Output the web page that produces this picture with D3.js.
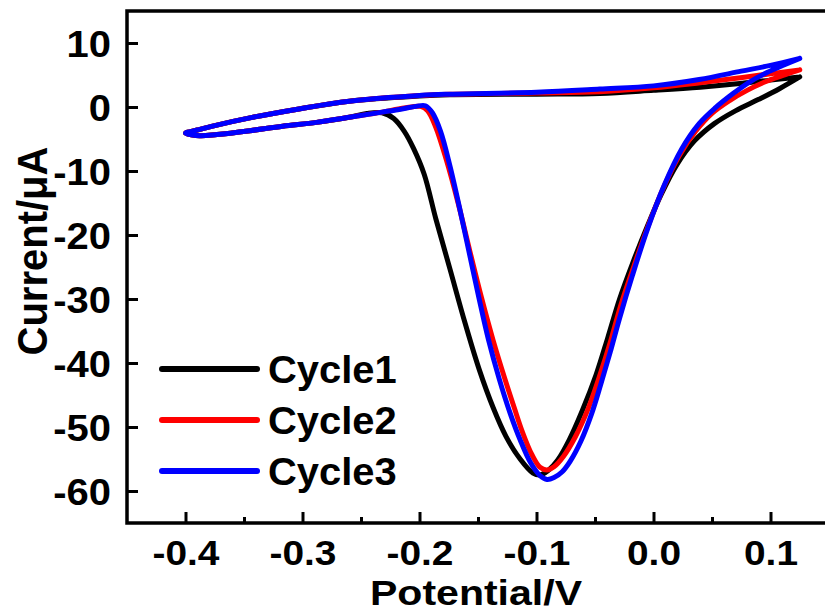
<!DOCTYPE html>
<html>
<head>
<meta charset="utf-8">
<script src="https://cdn.jsdelivr.net/npm/d3@7"></script>
<style>
  body { margin: 0; background: #fff; }
  svg { display: block; }
  text { font-family: "Liberation Sans", Arial, sans-serif; font-weight: bold; fill: #000; }
</style>
</head>
<body>
<div id="wrapper"></div>
<script>
// 1. Data
const cycle1Potential = [0.125, 0.108, 0.090, 0.070, 0.052, 0.035, 0.020, 0.007, -0.005, -0.017, -0.029, -0.039, -0.049, -0.061, -0.072, -0.082, -0.090, -0.097, -0.103, -0.114, -0.126, -0.137, -0.149, -0.161, -0.174, -0.186, -0.196, -0.205, -0.213, -0.222, -0.232, -0.245, -0.260, -0.288, -0.317, -0.345, -0.373, -0.388, -0.400, -0.390, -0.375, -0.345, -0.303, -0.260, -0.200, -0.174, -0.100, -0.046, 0.000, 0.040, 0.076, 0.100, 0.125]
const cycle1Current = [4.7, 2.9, 1.2, -0.6, -2.6, -5.3, -9.0, -13.5, -18.5, -24.0, -30.0, -36.0, -41.8, -47.5, -52.0, -55.2, -56.8, -57.5, -57.2, -55.0, -51.5, -47.0, -41.0, -33.8, -25.3, -17.5, -10.5, -6.5, -3.8, -1.8, -0.9, -1.0, -1.6, -2.4, -3.0, -3.7, -4.3, -4.5, -4.1, -3.6, -2.9, -1.7, -0.3, 0.9, 1.7, 1.9, 2.0, 2.1, 2.6, 3.1, 3.7, 4.2, 4.7]

const cycle2Potential = [0.125, 0.110, 0.095, 0.080, 0.065, 0.050, 0.036, 0.022, 0.008, -0.005, -0.017, -0.028, -0.037, -0.046, -0.056, -0.067, -0.077, -0.085, -0.091, -0.097, -0.104, -0.112, -0.119, -0.127, -0.137, -0.147, -0.157, -0.167, -0.177, -0.186, -0.193, -0.199, -0.207, -0.218, -0.232, -0.260, -0.288, -0.317, -0.345, -0.373, -0.388, -0.400, -0.390, -0.375, -0.345, -0.303, -0.260, -0.200, -0.174, -0.100, -0.046, 0.000, 0.040, 0.076, 0.100, 0.125]
const cycle2Current = [5.8, 4.9, 3.9, 2.6, 1.0, -1.0, -3.8, -7.6, -12.8, -18.8, -25.0, -31.0, -36.8, -42.0, -47.2, -51.6, -54.6, -56.2, -56.7, -56.3, -54.3, -50.8, -47.0, -42.5, -36.5, -29.8, -22.5, -15.0, -8.3, -3.2, -0.6, 0.1, 0.0, -0.3, -0.8, -1.6, -2.4, -3.0, -3.7, -4.3, -4.5, -4.1, -3.6, -2.9, -1.7, -0.3, 0.9, 1.8, 2.0, 2.2, 2.4, 3.0, 3.8, 4.6, 5.2, 5.8]

const cycle3Potential = [0.125, 0.112, 0.097, 0.082, 0.068, 0.053, 0.039, 0.024, 0.009, -0.005, -0.018, -0.029, -0.037, -0.045, -0.053, -0.062, -0.071, -0.078, -0.085, -0.091, -0.097, -0.105, -0.114, -0.123, -0.132, -0.141, -0.149, -0.157, -0.165, -0.174, -0.182, -0.189, -0.195, -0.203, -0.215, -0.232, -0.260, -0.288, -0.317, -0.345, -0.373, -0.388, -0.400, -0.390, -0.375, -0.345, -0.303, -0.260, -0.200, -0.174, -0.100, -0.046, 0.000, 0.039, 0.075, 0.100, 0.125]
const cycle3Current = [7.6, 6.6, 5.4, 3.9, 2.1, -0.1, -2.6, -6.6, -12.3, -19.0, -26.3, -33.0, -38.3, -43.3, -48.0, -52.2, -55.3, -57.0, -57.9, -58.2, -57.6, -55.6, -52.0, -47.6, -42.4, -36.4, -30.0, -23.2, -16.4, -9.2, -3.8, -0.9, 0.2, 0.1, -0.3, -0.8, -1.6, -2.4, -3.0, -3.7, -4.3, -4.5, -4.1, -3.6, -2.9, -1.7, -0.3, 0.9, 1.8, 2.0, 2.3, 2.8, 3.3, 4.3, 5.6, 6.5, 7.6]

const seriesNames = ["Cycle1", "Cycle2", "Cycle3"]
const seriesColors = ["#000000", "#ff0000", "#0000ff"]
const xMajorTicks = [-0.4, -0.3, -0.2, -0.1, 0.0, 0.1]
const xMinorTicks = [-0.35, -0.25, -0.15, -0.05, 0.05]
const yTicks = [10, 0, -10, -20, -30, -40, -50, -60]

function drawChart() {
  const series = [
    d3.zip(cycle1Potential, cycle1Current),
    d3.zip(cycle2Potential, cycle2Current),
    d3.zip(cycle3Potential, cycle3Current)
  ]
  const xAccessor = d => d[0]
  const yAccessor = d => d[1]

  // 2. Chart dimensions
  let dimensions = {
    width: 825,
    height: 613,
    margin: { top: 11, right: -4, bottom: 90, left: 127 }
  }
  dimensions.boundedWidth = dimensions.width - dimensions.margin.left - dimensions.margin.right
  dimensions.boundedHeight = dimensions.height - dimensions.margin.top - dimensions.margin.bottom

  const stretch = 1.08 // text in the picture is a bit wide

  // 3. Draw canvas
  const wrapper = d3.select("#wrapper")
    .append("svg")
      .attr("width", dimensions.width)
      .attr("height", dimensions.height)

  const bounds = wrapper.append("g")
    .attr("transform", `translate(${dimensions.margin.left},${dimensions.margin.top})`)

  // 4. Scales
  const xScale = d3.scaleLinear()
    .domain([-0.45, 0.15])
    .range([0, dimensions.boundedWidth])

  const yScale = d3.scaleLinear()
    .domain([-65, 15])
    .range([dimensions.boundedHeight, 0])

  // 5. Draw data
  const lineGenerator = d3.line()
    .x(d => xScale(xAccessor(d)))
    .y(d => yScale(yAccessor(d)))
    .curve(d3.curveCatmullRom.alpha(0.5))

  bounds.append("g")
    .selectAll("path")
    .data(series)
    .join("path")
      .attr("d", lineGenerator)
      .attr("fill", "none")
      .attr("stroke", (d, i) => seriesColors[i])
      .attr("stroke-width", 5)
      .attr("stroke-linejoin", "round")
      .attr("stroke-linecap", "round")

  // 6. Peripherals
  const xAxis = bounds.append("g")
    .attr("transform", `translate(0,${dimensions.boundedHeight})`)
    .call(d3.axisBottom(xScale)
      .tickValues(xMajorTicks)
      .tickFormat(d => d.toFixed(1))
      .tickSizeInner(-11)
      .tickSizeOuter(0))
  xAxis.select(".domain").remove()
  xAxis.selectAll("line").attr("stroke", "#000").attr("stroke-width", 3)
  xAxis.selectAll("text")
    .attr("y", 42)
    .attr("dy", null)
    .attr("transform", `scale(${stretch},1)`)
    .style("font-size", "36px")

  const xMinor = bounds.append("g")
    .attr("transform", `translate(0,${dimensions.boundedHeight})`)
    .call(d3.axisBottom(xScale)
      .tickValues(xMinorTicks)
      .tickFormat("")
      .tickSizeInner(-6)
      .tickSizeOuter(0))
  xMinor.select(".domain").remove()
  xMinor.selectAll("line").attr("stroke", "#000").attr("stroke-width", 3)

  const yAxis = bounds.append("g")
    .call(d3.axisLeft(yScale)
      .tickValues(yTicks)
      .tickFormat(d => String(d))
      .tickSizeInner(-11)
      .tickSizeOuter(0))
  yAxis.select(".domain").remove()
  yAxis.selectAll("line").attr("stroke", "#000").attr("stroke-width", 3)
  yAxis.selectAll("text")
    .attr("x", -16 / stretch)
    .attr("dy", "0.36em")
    .attr("transform", `scale(${stretch},1)`)
    .style("font-size", "37px")

  // frame
  bounds.append("rect")
    .attr("width", dimensions.boundedWidth)
    .attr("height", dimensions.boundedHeight)
    .attr("fill", "none")
    .attr("stroke", "#000")
    .attr("stroke-width", 3.5)

  // axis labels
  wrapper.append("text")
    .attr("transform", `translate(${dimensions.margin.left + xScale(-0.15) - 2},605) scale(1.14,1)`)
    .attr("text-anchor", "middle")
    .style("font-size", "36px")
    .text("Potential/V")

  wrapper.append("text")
    .attr("transform", `translate(47,251) rotate(-90) scale(1,${stretch})`)
    .attr("text-anchor", "middle")
    .style("font-size", "40px")
    .text("Current/μA")

  // legend
  const legend = wrapper.append("g")
    .selectAll("g")
    .data(seriesNames)
    .join("g")
      .attr("transform", (d, i) => `translate(162,${369 + i * 51})`)

  legend.append("line")
    .attr("x1", 0)
    .attr("x2", 95)
    .attr("stroke", (d, i) => seriesColors[i])
    .attr("stroke-width", 6)
    .attr("stroke-linecap", "round")

  legend.append("text")
    .attr("transform", `translate(106,0) scale(1.05,1)`)
    .attr("dy", "0.36em")
    .style("font-size", "38px")
    .text(d => d)
}

drawChart()
</script>
</body>
</html>
